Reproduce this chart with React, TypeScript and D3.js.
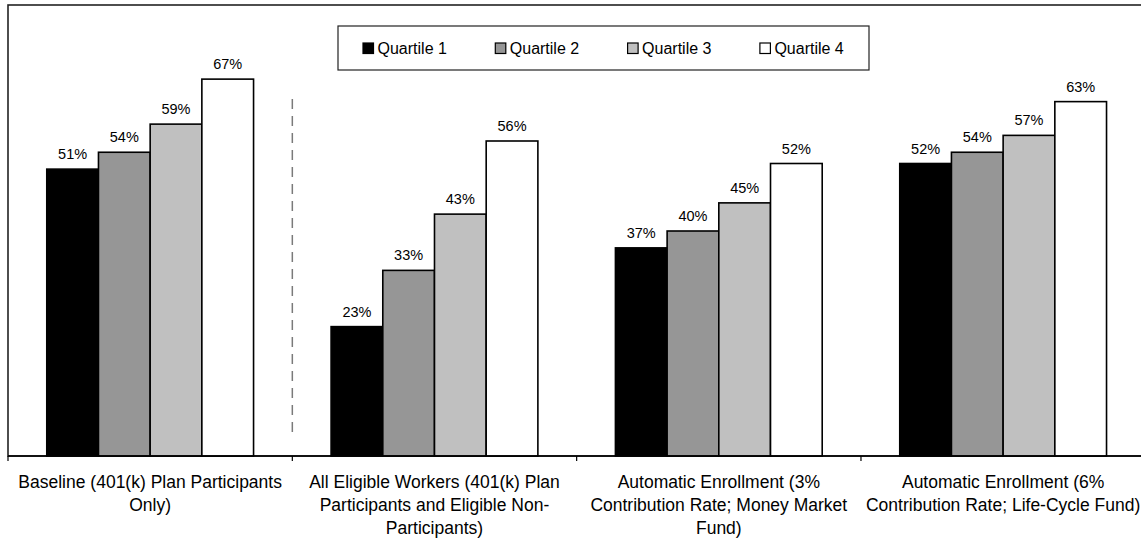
import React from "react";
import * as d3 from "d3";

// Scenario categories (line breaks mark how each axis label wraps)
const categories: string[] = [
  "Baseline (401(k) Plan Participants\nOnly)",
  "All Eligible Workers (401(k) Plan\nParticipants and Eligible Non-\nParticipants)",
  "Automatic Enrollment (3%\nContribution Rate; Money Market\nFund)",
  "Automatic Enrollment (6%\nContribution Rate; Life-Cycle Fund)",
];

const seriesNames: string[] = ["Quartile 1", "Quartile 2", "Quartile 3", "Quartile 4"];

// Percentages per scenario, one array per quartile
const quartile1: number[] = [51, 23, 37, 52];
const quartile2: number[] = [54, 33, 40, 54];
const quartile3: number[] = [59, 43, 45, 57];
const quartile4: number[] = [67, 56, 52, 63];

const seriesValues: number[][] = [quartile1, quartile2, quartile3, quartile4];
const seriesFills: string[] = ["#000000", "#969696", "#c0c0c0", "#ffffff"];

const W = 1141;
const H = 540;
const plotLeft = 8;
const plotRight = 1145.3;
const plotTop = 5;
const baseY = 456;

const FONT = "'Liberation Sans', Arial, sans-serif";

export default function App() {
  const x0 = d3.scaleBand<string>().domain(categories).range([plotLeft, plotRight]).paddingInner(0).paddingOuter(0);
  const x1 = d3
    .scaleBand<string>()
    .domain(seriesNames)
    .range([0, x0.bandwidth()])
    .paddingInner(0)
    .paddingOuter(0.75);
  const y = d3.scaleLinear().domain([0, 80]).range([baseY, baseY - 80 * 5.625]);

  const ticks = categories.map((_, i) => plotLeft + i * x0.step()).concat([plotRight]);
  const dividerX = x0(categories[1]) as number;

  const legendX = 338;
  const legendY = 26;
  const legendW = 531;
  const legendH = 44;
  const legendStep = 132.3;

  return (
    <svg
      width={W}
      height={H}
      style={{ position: "absolute", left: 0, top: 0, background: "#fff" }}
      fontFamily={FONT}
    >
      {/* plot area frame */}
      <rect
        x={plotLeft}
        y={plotTop}
        width={plotRight - plotLeft}
        height={baseY - plotTop}
        fill="#fff"
        stroke="#222"
        strokeWidth={1.6}
      />

      {/* dashed divider between baseline and alternative scenarios */}
      <line
        x1={dividerX}
        x2={dividerX}
        y1={99}
        y2={437}
        stroke="#7a7a7a"
        strokeWidth={1.5}
        strokeDasharray="10,7"
      />

      {/* bars */}
      {categories.map((c, ci) => (
        <g key={c} transform={`translate(${x0(c)},0)`}>
          {seriesNames.map((s, si) => {
            const v = seriesValues[si][ci];
            const bx = x1(s) as number;
            return (
              <g key={s}>
                <rect
                  x={bx}
                  y={y(v)}
                  width={x1.bandwidth()}
                  height={baseY - y(v)}
                  fill={seriesFills[si]}
                  stroke="#000"
                  strokeWidth={1.6}
                />
                <text
                  x={bx + x1.bandwidth() / 2}
                  y={y(v) - 10}
                  textAnchor="middle"
                  fontSize={14.5}
                  fill="#000"
                >
                  {`${v}%`}
                </text>
              </g>
            );
          })}
        </g>
      ))}

      {/* category axis */}
      <line x1={plotLeft} x2={plotRight} y1={baseY} y2={baseY} stroke="#000" strokeWidth={1.6} />
      {ticks.map((t, i) => (
        <line key={i} x1={t} x2={t} y1={baseY} y2={baseY + 5} stroke="#000" strokeWidth={1.2} />
      ))}
      {categories.map((c) => {
        const cx = (x0(c) as number) + x0.bandwidth() / 2;
        return (
          <text key={c} x={cx} textAnchor="middle" fontSize={17.5} fill="#000">
            {c.split("\n").map((line, li) => (
              <tspan key={li} x={cx} y={488 + li * 22.8}>
                {line}
              </tspan>
            ))}
          </text>
        );
      })}

      {/* legend */}
      <rect x={legendX} y={legendY} width={legendW} height={legendH} fill="#fff" stroke="#222" strokeWidth={1.2} />
      {seriesNames.map((s, i) => {
        const lx = 363 + i * legendStep;
        return (
          <g key={s}>
            <rect x={lx} y={43} width={10.5} height={10.5} fill={seriesFills[i]} stroke="#000" strokeWidth={1.2} />
            <text x={lx + 14.5} y={53.8} fontSize={16} fill="#000">
              {s}
            </text>
          </g>
        );
      })}
    </svg>
  );
}
